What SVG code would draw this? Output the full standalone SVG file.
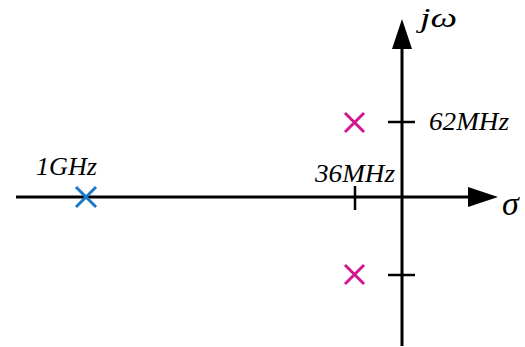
<svg xmlns="http://www.w3.org/2000/svg" width="525" height="347" viewBox="0 0 525 347">
<style>
.ax{stroke:#000;stroke-width:3;fill:none}
.tk{stroke:#000;stroke-width:2.5;fill:none}
.lbl{font-family:"Liberation Serif","Times New Roman",serif;font-style:italic;font-size:25px;fill:#000}
.pb{stroke:#1a78c8;stroke-width:3;fill:none}
.pm{stroke:#d4158f;stroke-width:3;fill:none}
</style>
<rect width="525" height="347" fill="#fff"/>
<g id="axes">
<line class="ax" x1="16" y1="197" x2="470" y2="197"/>
<polygon points="468,187 498,197 468,207" fill="#000"/>
<line class="ax" x1="402" y1="346" x2="402" y2="47"/>
<polygon points="392,49 402,19 412,49" fill="#000"/>
<line class="tk" x1="388" y1="122" x2="415" y2="122"/>
<line class="tk" x1="388" y1="275" x2="415" y2="275"/>
<line class="tk" x1="355" y1="186" x2="355" y2="210"/>
</g>
<g id="pole-1ghz">
<path class="pb" d="M76,187 L96,207 M96,187 L76,207"/>
</g>
<g id="pole-upper">
<path class="pm" d="M345,113 L364,132 M364,113 L345,132"/>
</g>
<g id="pole-lower">
<path class="pm" d="M345,265 L364,284 M364,265 L345,284"/>
</g>
<g id="labels">
<text class="lbl" x="420" y="27" style="font-size:27px" textLength="37" lengthAdjust="spacingAndGlyphs">jω</text>
<text class="lbl" x="502" y="215" style="font-size:34px">σ</text>
<text class="lbl" x="429" y="130" textLength="80" lengthAdjust="spacingAndGlyphs">62MHz</text>
<text class="lbl" x="315" y="182" textLength="80" lengthAdjust="spacingAndGlyphs">36MHz</text>
<text class="lbl" x="36" y="175" textLength="61" lengthAdjust="spacingAndGlyphs">1GHz</text>
</g>
</svg>
